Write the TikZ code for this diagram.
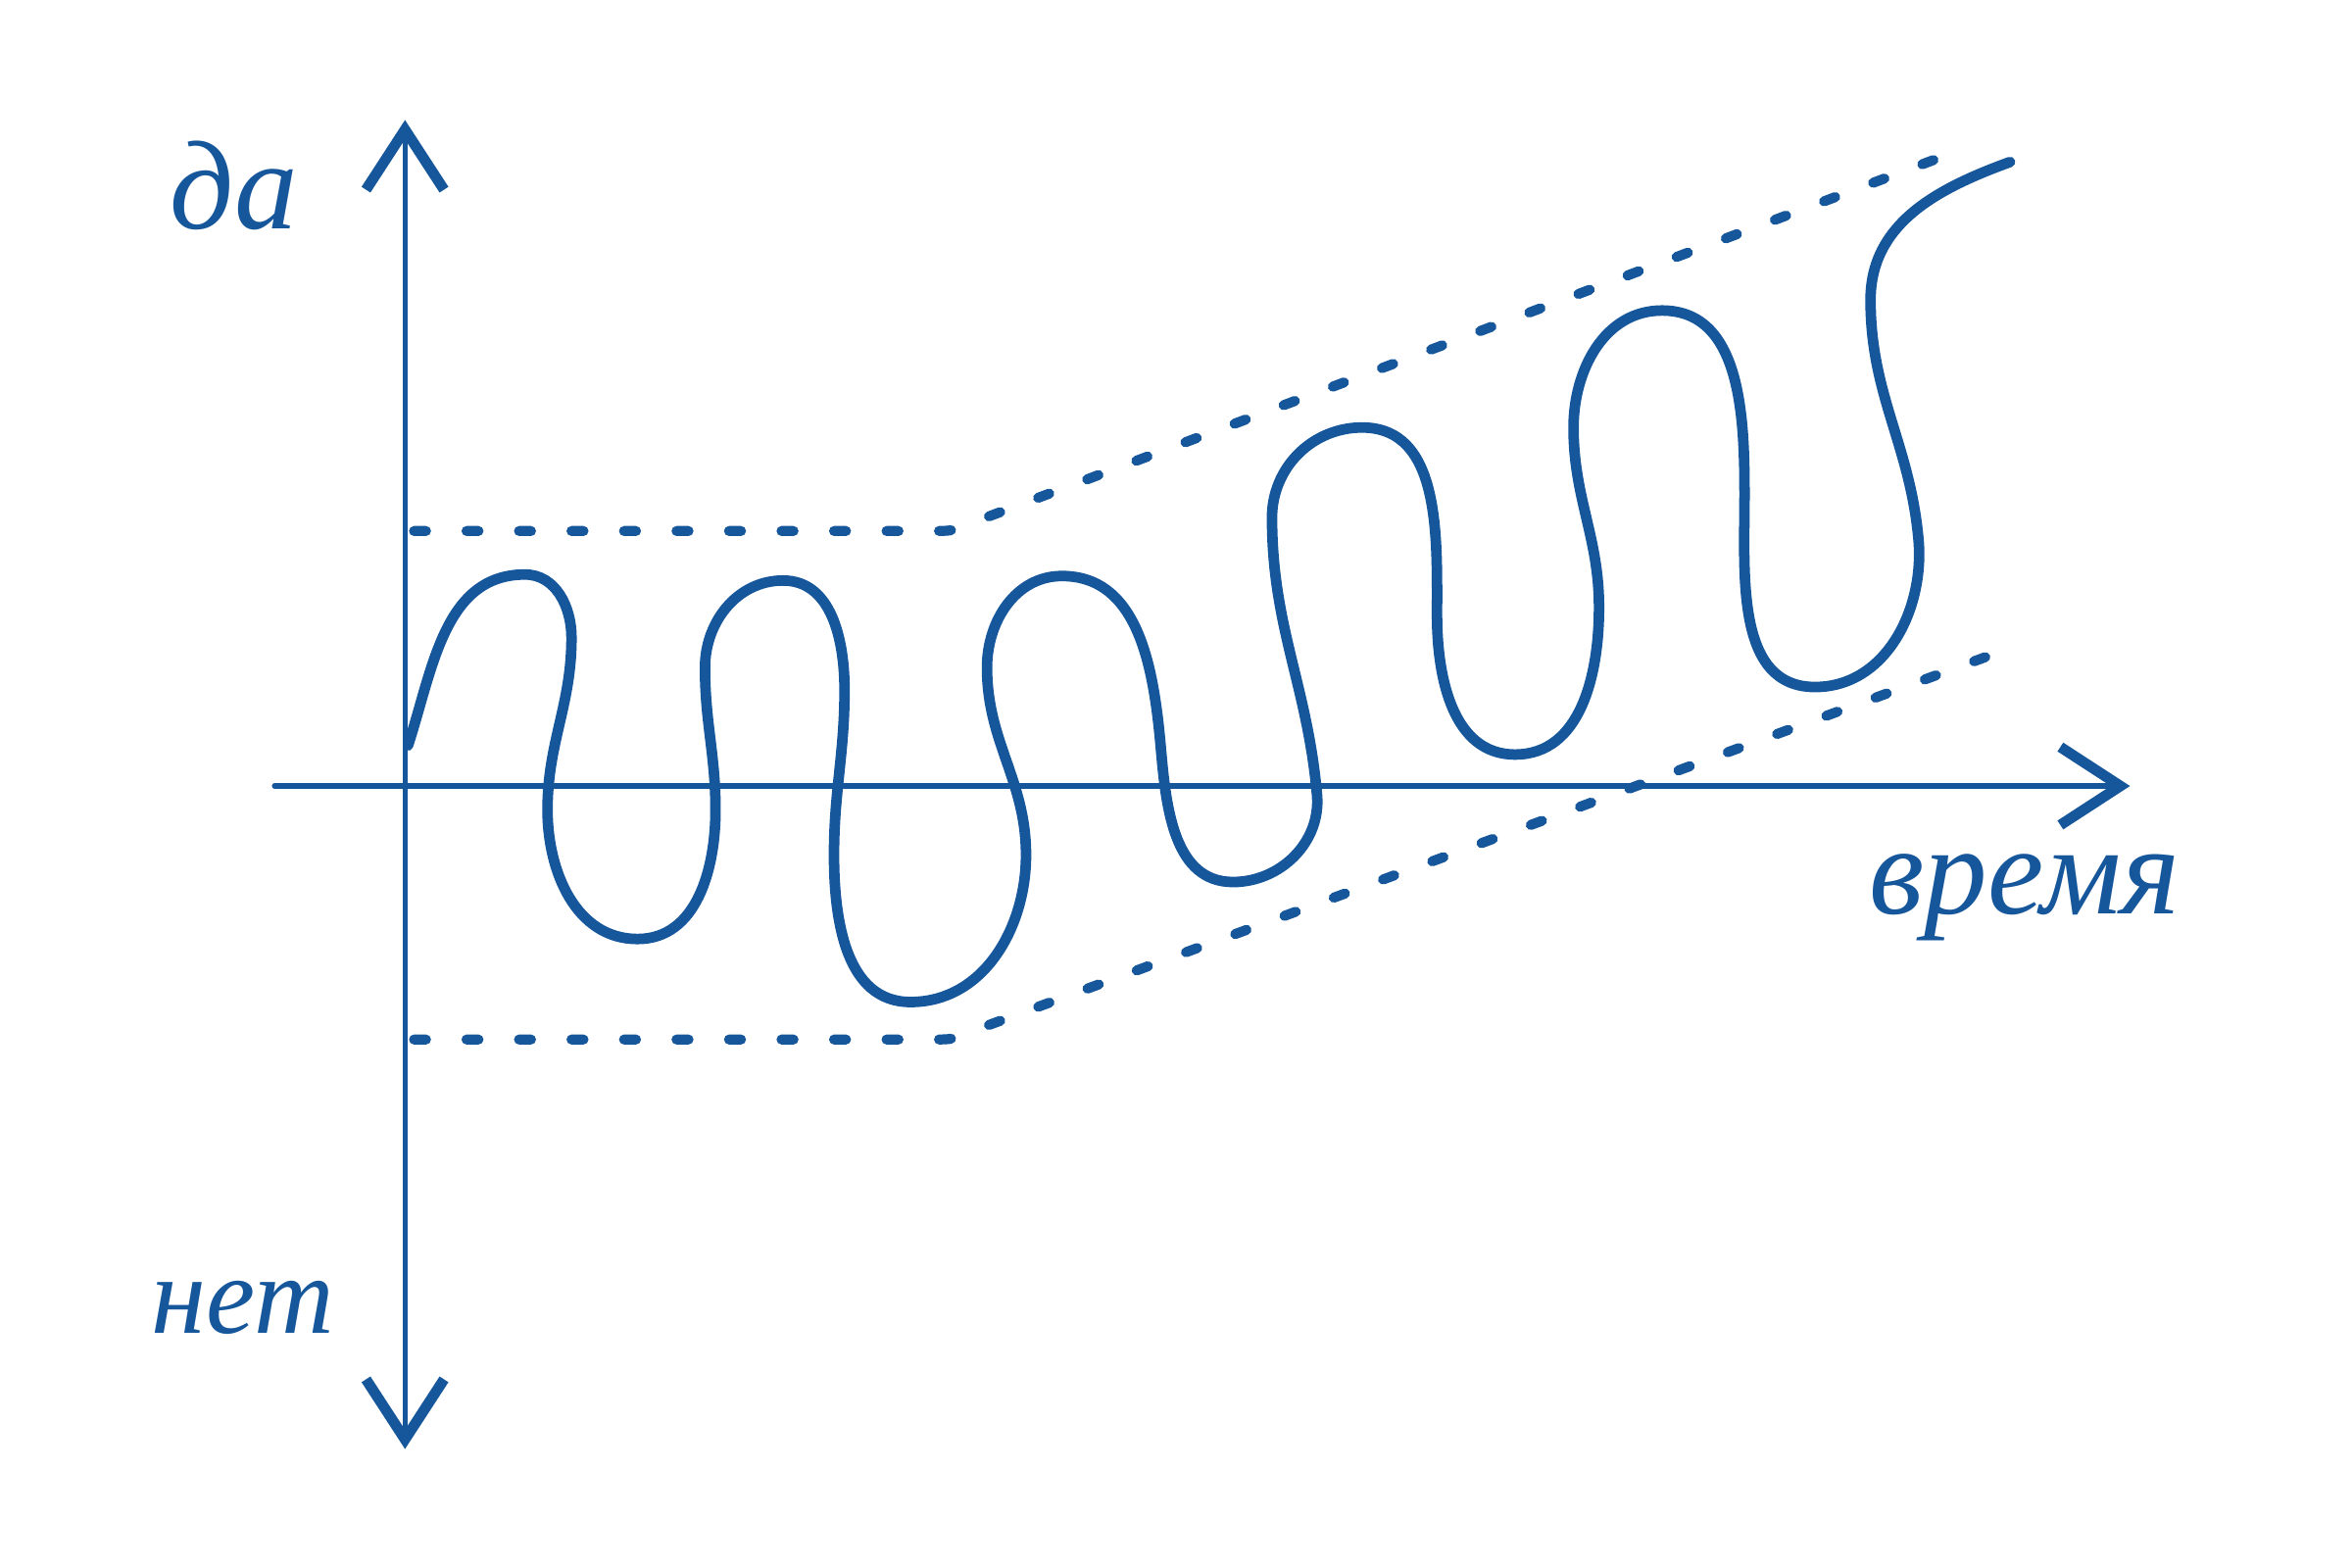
\documentclass[tikz,border=0pt]{standalone}
\usepackage{fontspec}
\setmainfont{Liberation Serif}
\usetikzlibrary{arrows.meta}
\definecolor{ink}{RGB}{22,86,155}

\begin{document}
\begin{tikzpicture}[x=1cm,y=1cm,
  >={Straight Barb[length=0.4cm,width=0.52cm,line width=2pt]},
  every node/.style={text=ink,font=\fontsize{24}{28}\selectfont\itshape},
  axis/.style={draw=ink,line width=1pt,line cap=round},
  envelope/.style={draw=ink,line width=1.9pt,line cap=round,dash pattern=on 0.08cm off 0.27cm},
  wave/.style={draw=ink,line width=2pt,line cap=round,line join=round}]
\useasboundingbox (0,0) rectangle (15.68,-10.45);

% axes
\coordinate (top) at (2.70,-0.80);
\coordinate (bottom) at (2.70,-9.66);
\coordinate (left) at (1.83,-5.24);
\coordinate (right) at (14.20,-5.24);
\draw[axis,<->] (bottom) -- (top);
\draw[axis,->] (left) -- (right);

\node (yes) at (1.56,-1.24) {да};
\node[font=\fontsize{21}{24}\selectfont\itshape] (no) at (1.62,-8.72) {нет};
\node (time) at (13.50,-5.98) {время};

% envelopes
\draw[envelope] (2.76,-3.54) -- (6.20,-3.54) .. controls (6.36,-3.54) .. (6.52,-3.47) -- (13.12,-0.98);
\draw[envelope] (2.76,-6.93) -- (6.20,-6.93) .. controls (6.36,-6.93) .. (6.52,-6.86) -- (13.40,-4.32);

% the wave
\draw[wave] (2.72,-4.97)
  to[out=72,in=180] (3.50,-3.83) to[out=0,in=90] (3.81,-4.25)
  to[out=270,in=90] (3.65,-5.40) to[out=270,in=180] (4.25,-6.26)
  to[out=0,in=270] (4.77,-5.40) to[out=90,in=270] (4.70,-4.45)
  to[out=90,in=180] (5.22,-3.87) to[out=0,in=90] (5.63,-4.60)
  to[out=270,in=90] (5.56,-5.70) to[out=270,in=180] (6.07,-6.68)
  to[out=0,in=270] (6.84,-5.70) to[out=90,in=270] (6.58,-4.45)
  to[out=90,in=180] (7.08,-3.84) to[out=0,in=95] (7.74,-5.00)
  to[out=275,in=180] (8.22,-5.88) to[out=0,in=275] (8.78,-5.30)
  to[out=95,in=270] (8.48,-3.45) to[out=90,in=180] (9.08,-2.85)
  to[out=0,in=90] (9.58,-4.10) to[out=270,in=180] (10.10,-5.03)
  to[out=0,in=270] (10.66,-4.05) to[out=90,in=270] (10.49,-2.85)
  to[out=90,in=180] (11.08,-2.07) to[out=0,in=90] (11.63,-3.30)
  to[out=270,in=180] (12.10,-4.58) to[out=0,in=275] (12.79,-3.60)
  to[out=95,in=270] (12.47,-2.00) to[out=90,in=200] (13.40,-1.08);
\end{tikzpicture}
\end{document}
